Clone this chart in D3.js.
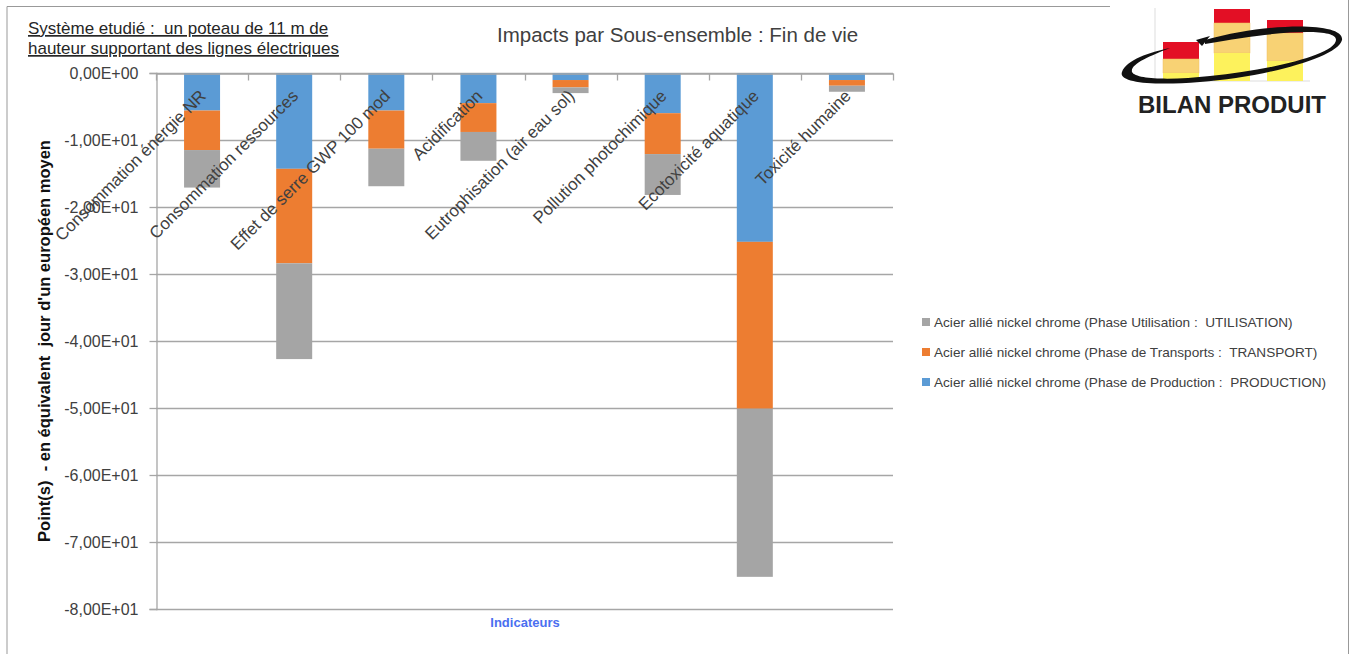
<!DOCTYPE html>
<html lang="fr">
<head>
<meta charset="UTF-8">
<title>Impacts par Sous-ensemble : Fin de vie</title>
<style>
  * { margin: 0; padding: 0; }
  body { background: #fff; font-family: "Liberation Sans", Arial, sans-serif; }
  svg text { fill: #404040; white-space: pre; }
</style>
</head>
<body>
<div id="chart"></div>
<script src="https://cdnjs.cloudflare.com/ajax/libs/d3/7.8.5/d3.min.js"></script>
<script>
// data
var categories = ['Consommation énergie NR', 'Consommation ressources', 'Effet de serre GWP 100 mod',
  'Acidification', 'Eutrophisation (air eau sol)', 'Pollution photochimique',
  'Ecotoxicité aquatique', 'Toxicité humaine'];
var production = [-5.6, -14.3, -5.6, -4.5, -1.05, -6.0, -25.2, -1.05];
var transport = [-5.9, -14.1, -5.7, -4.3, -1.1, -6.1, -24.9, -0.85];
var utilisation = [-5.6, -14.3, -5.6, -4.3, -0.85, -6.1, -25.1, -0.9];
var seriesNames = [
  'Acier allié nickel chrome (Phase Utilisation :  UTILISATION)',
  'Acier allié nickel chrome (Phase de Transports :  TRANSPORT)',
  'Acier allié nickel chrome (Phase de Production :  PRODUCTION)'
];
var yTicks = [0, -10, -20, -30, -40, -50, -60, -70, -80];

// logo bars (decoration): red, orange, yellow heights from top
var logoTops = [42, 9, 20];
var logoMid = [59, 23, 33];
var logoLow = [73, 53, 61];

var width = 1355, height = 654;
var plotLeft = 156, plotRight = 893, plotTop = 73, plotBottom = 609;

var svg = d3.select('#chart').append('svg')
  .attr('width', width)
  .attr('height', height);

// frame
svg.append('path')
  .attr('d', 'M7,654 V6.5 H1110 M1348.5,0 V654')
  .attr('fill', 'none')
  .attr('stroke', '#999')
  .attr('stroke-width', 1);

var rows = categories.map(function(c, i) {
  return { cat: c, prod: production[i], trans: transport[i], util: utilisation[i] };
});

var x = d3.scaleBand()
  .domain(categories)
  .range([plotLeft, plotRight])
  .padding(0);

var y = d3.scaleLinear()
  .domain([-80, 0])
  .range([plotBottom, plotTop]);

var colors = { prod: '#5b9bd5', trans: '#ed7d31', util: '#a5a5a5' };

function sciFr(v) {
  if (v === 0) return '0,00E+00';
  var parts = v.toExponential(2).split('e');
  var exp = parseInt(parts[1], 10);
  var sign = exp < 0 ? '-' : '+';
  var e = Math.abs(exp);
  return parts[0].replace('.', ',') + 'E' + sign + (e < 10 ? '0' + e : e);
}

// gridlines + y axis
var yAxis = d3.axisLeft(y)
  .tickValues(yTicks)
  .tickSize(7)
  .tickPadding(11)
  .tickFormat(sciFr);

var grid = svg.append('g');
grid.selectAll('line')
  .data(yTicks)
  .enter()
  .append('line')
  .attr('x1', plotLeft)
  .attr('x2', plotRight)
  .attr('y1', function(d) { return Math.round(y(d)) + 0.5; })
  .attr('y2', function(d) { return Math.round(y(d)) + 0.5; })
  .attr('stroke', '#a6a6a6')
  .attr('stroke-width', 1.3);

var yg = svg.append('g')
  .attr('transform', 'translate(' + (plotLeft + 0.5) + ',0)')
  .call(yAxis);
yg.select('.domain').attr('stroke', '#a6a6a6').attr('stroke-width', 1.3);
yg.selectAll('.tick line').attr('stroke', '#a6a6a6').attr('stroke-width', 1.3);
yg.selectAll('.tick text')
  .attr('font-family', '"Liberation Sans", Arial, sans-serif')
  .attr('font-size', '16px')
  .attr('fill', '#404040');

// stacked bars (negative values stack downward from zero)
var stack = d3.stack()
  .keys(['prod', 'trans', 'util'])
  .offset(d3.stackOffsetDiverging);
var layers = stack(rows);
var barW = 36;

svg.append('g').selectAll('g')
  .data(layers)
  .enter()
  .append('g')
  .attr('fill', function(d) { return colors[d.key]; })
  .selectAll('rect')
  .data(function(d) { return d; })
  .enter()
  .append('rect')
  .attr('x', function(d) { return x(d.data.cat) + x.bandwidth() / 2 - barW / 2; })
  .attr('y', function(d) { return y(Math.max(d[0], d[1])); })
  .attr('width', barW)
  .attr('height', function(d) { return Math.abs(y(d[0]) - y(d[1])); });

// category axis at zero (top)
var xAxis = d3.axisBottom(x).tickSize(0).tickFormat('');
var xg = svg.append('g')
  .attr('transform', 'translate(0,' + (Math.round(y(0)) + 0.5) + ')')
  .call(xAxis);
xg.select('.domain').attr('stroke', '#a6a6a6').attr('stroke-width', 1.3);
var bounds = categories.map(function(c) { return x(c); }).concat([plotRight]);
xg.selectAll('.cut')
  .data(bounds)
  .enter()
  .append('line')
  .attr('x1', function(d) { return Math.round(d) + 0.5; })
  .attr('x2', function(d) { return Math.round(d) + 0.5; })
  .attr('y1', 0)
  .attr('y2', 7)
  .attr('stroke', '#a6a6a6')
  .attr('stroke-width', 1.3);

// rotated category labels
svg.append('g').selectAll('text')
  .data(categories)
  .enter()
  .append('text')
  .attr('transform', function(d) {
    return 'translate(' + (x(d) + x.bandwidth() / 2 + 5) + ',97) rotate(-45)';
  })
  .attr('text-anchor', 'end')
  .attr('font-size', '17px')
  .attr('fill', '#404040')
  .text(function(d) { return d; });

// axis titles
svg.append('text')
  .attr('transform', 'translate(50,341) rotate(-90)')
  .attr('text-anchor', 'middle')
  .attr('font-size', '16.5px')
  .attr('font-weight', 'bold')
  .style('fill', '#111')
  .text("Point(s)  - en équivalent  jour d'un européen moyen");

svg.append('text')
  .attr('x', 525)
  .attr('y', 627)
  .attr('text-anchor', 'middle')
  .attr('font-size', '13px')
  .attr('font-weight', 'bold')
  .style('fill', '#4a6ff0')
  .text('Indicateurs');

// titles
svg.append('text')
  .attr('x', 497)
  .attr('y', 42)
  .attr('font-size', '20.5px')
  .style('fill', '#404040')
  .text('Impacts par Sous-ensemble : Fin de vie');

var sub = svg.append('text')
  .attr('x', 28)
  .attr('font-size', '17px')
  .attr('text-decoration', 'underline')
  .style('fill', '#262626');
sub.append('tspan').attr('x', 28).attr('y', 34).text('Système etudié :  un poteau de 11 m de');
sub.append('tspan').attr('x', 28).attr('y', 54).text('hauteur supportant des lignes électriques');

// legend
var legendKeys = ['util', 'trans', 'prod'];
var lg = svg.append('g').selectAll('g')
  .data(legendKeys)
  .enter()
  .append('g')
  .attr('transform', function(d, i) { return 'translate(922,' + (322 + i * 30) + ')'; });
lg.append('rect')
  .attr('x', 0)
  .attr('y', -4)
  .attr('width', 8)
  .attr('height', 8)
  .attr('fill', function(d) { return colors[d]; });
lg.append('text')
  .attr('x', 12)
  .attr('y', 0)
  .attr('dy', '0.35em')
  .attr('font-size', '13.6px')
  .style('fill', '#404040')
  .text(function(d, i) { return seriesNames[i]; });

// logo
var logo = svg.append('g');
var logoX = [1163, 1214, 1267];
logo.append('path')
  .attr('d', 'M1155,8 V81 H1310')
  .attr('fill', 'none')
  .attr('stroke', '#ddd');
logoX.forEach(function(lx, i) {
  logo.append('rect').attr('x', lx).attr('y', logoTops[i]).attr('width', 36)
    .attr('height', logoMid[i] - logoTops[i]).attr('fill', '#e30f25');
  logo.append('rect').attr('x', lx).attr('y', logoMid[i]).attr('width', 36)
    .attr('height', logoLow[i] - logoMid[i]).attr('fill', '#f8d274').attr('stroke', '#f0c060').attr('stroke-width', 0.5);
  logo.append('rect').attr('x', lx).attr('y', logoLow[i]).attr('width', 36)
    .attr('height', 81 - logoLow[i]).attr('fill', '#fdf25c');
});
// swoosh
logo.append('path')
  .attr('d', 'M1205,40 C1270,22 1345,22 1342,40 C1338,58 1260,78 1200,82 ' +
    'C1150,86 1118,82 1122,72 C1126,60 1150,52 1170,48 ' +
    'C1150,56 1130,64 1132,72 C1136,80 1175,80 1210,76 ' +
    'C1270,70 1335,55 1336,40 C1337,28 1280,30 1205,44 Z')
  .attr('fill', '#111');
logo.append('path')
  .attr('d', 'M1196,40 L1210,36 L1202,46 Z')
  .attr('fill', '#111');
logo.append('text')
  .attr('x', 1232)
  .attr('y', 113)
  .attr('text-anchor', 'middle')
  .attr('font-size', '24px')
  .attr('font-weight', 'bold')
  .style('fill', '#222')
  .text('BILAN PRODUIT');
</script>
</body>
</html>
